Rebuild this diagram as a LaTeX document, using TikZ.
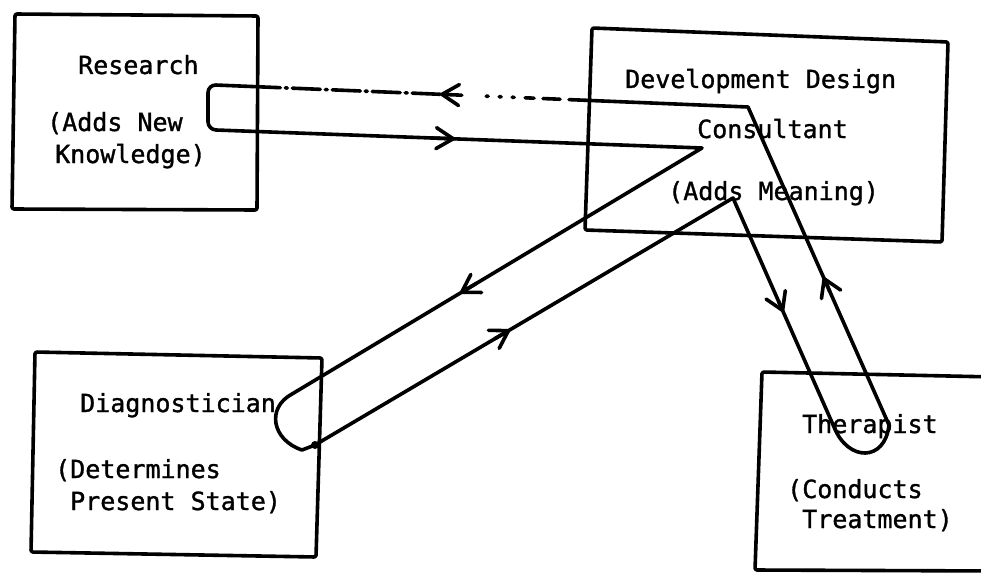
\documentclass[tikz,border=0pt]{standalone}
\usepackage{fontspec}
\newfontfamily\tw[FakeBold=1.2]{DejaVu Sans Mono}
\usetikzlibrary{arrows.meta,calc}

\begin{document}
\begin{tikzpicture}[x=1pt,y=-1pt,
  boxline/.style={line width=3.6pt, line join=round, rounded corners=2pt},
  loopline/.style={line width=3.6pt, line cap=round, line join=round},
  txt/.style={inner sep=0pt, anchor=base west, font=\tw\fontsize{25}{30}\selectfont},
  barb/.style={line width=3.6pt, line cap=round,
    -{Straight Barb[round,length=17pt,width=21pt,line width=3.6pt]}},
  dashdot/.style={dash pattern=on 28pt off 5pt on 2pt off 5pt},
  sparse/.style={dash pattern=on 2pt off 11pt},
  brokenline/.style={dash pattern=on 17pt off 9pt}]

% page and clipping frame
\useasboundingbox (0,0) rectangle (981,575);
\fill[white] (0,0) rectangle (981,575);
\clip (0,0) rectangle (981,575);

% ---------- the four boxes ----------
\coordinate (r1) at (15,14);   \coordinate (r2) at (258,16);
\coordinate (r3) at (257,210); \coordinate (r4) at (12,209);
\draw[boxline] (r1) -- (r2) -- (r3) -- (r4) -- cycle;

\coordinate (d1) at (592,28);  \coordinate (d2) at (948,42);
\coordinate (d3) at (942,242); \coordinate (d4) at (585,230);
\draw[boxline] (d1) -- (d2) -- (d3) -- (d4) -- cycle;

\coordinate (g1) at (35,352);  \coordinate (g2) at (322,358);
\coordinate (g3) at (316,557); \coordinate (g4) at (31,552);
\draw[boxline] (g1) -- (g2) -- (g3) -- (g4) -- cycle;

\coordinate (t1) at (762,372); \coordinate (t2) at (995,377);
\coordinate (t3) at (995,571); \coordinate (t4) at (755,570);
\draw[boxline] (t2) -- (t1) -- (t4) -- (t3);

% ---------- the loop joining the boxes ----------
\coordinate (k1) at (748,107);     % turn inside the consultant box
\coordinate (k2) at (702,148);     % inner end of the research loop
\coordinate (k3) at (733,198);     % apex above the diagnostic loop
\coordinate (rtop) at (208,84.7);  % research loop, upper bend
\coordinate (rbot) at (208,129.7); % research loop, lower bend
\coordinate (du1) at (292,394);    % diagnostic loop, entry
\coordinate (du2) at (315,445);    % diagnostic loop, exit
\coordinate (tu1) at (834,427);    % therapist loop, entry
\coordinate (tu2) at (889,425);    % therapist loop, exit

% upper return line: solid, broken, dotted, dash-dot
\coordinate (a1) at ($(k1)!0.30!(rtop)$);
\coordinate (a2) at ($(k1)!0.409!(rtop)$);
\coordinate (a3) at ($(k1)!0.496!(rtop)$);
\coordinate (a4) at ($(k1)!0.570!(rtop)$);
\coordinate (a5) at ($(k1)!0.90!(rtop)$);
\draw[loopline,brokenline] (a1) -- (a2);
\draw[loopline,sparse] (a2) -- (a3);
\draw[loopline,dashdot] (a4) -- (a5);

% main run of the loop
\draw[loopline] (a1) -- (k1) -- (tu2)
  .. controls (885,462) and (848,462) .. (tu1) -- (k3) -- (du2) -- (302,450)
  .. controls (272,440) and (266,408) .. (du1) -- (k2) -- ($(k2)!0.5!(rbot)$);
\draw[loopline,rounded corners=8pt] ($(k2)!0.5!(rbot)$) -- (rbot) -- (rtop) -- (a5);
\fill (du2) circle (4pt);

% direction marks
\draw[barb] ($(k1)!0.53!(rtop)$) -- (a4);
\draw[barb] ($(rbot)!0.45!(k2)$) -- ($(rbot)!0.5!(k2)$);
\draw[barb] ($(k2)!0.55!(du1)$) -- ($(k2)!0.59!(du1)$);
\draw[barb] ($(du2)!0.43!(k3)$) -- ($(du2)!0.4665!(k3)$);
\draw[barb] ($(k3)!0.45!(tu1)$) -- ($(k3)!0.498!(tu1)$);
\draw[barb] ($(tu2)!0.42!(k1)$) -- ($(tu2)!0.465!(k1)$);

% ---------- texts ----------
\node[txt] (research) at (78,74) {Research};
\node[txt] (rsub1) at (47,131) {(Adds New};
\node[txt] (rsub2) at (55,163) {Knowledge)};

\node[txt] (dev1) at (625,88) {Development Design};
\node[txt] (dev2) at (697,138) {Consultant};
\node[txt] (dev3) at (668,200) {(Adds Meaning)};

\node[txt] (diag) at (80,412) {Diagnostician};
\node[txt] (dsub1) at (55,478) {(Determines};
\node[txt] (dsub2) at (70,510) {Present State)};

\node[txt] (ther) at (802,433) {Therapist};
\node[txt] (tsub1) at (787,498) {(Conducts};
\node[txt] (tsub2) at (802,528) {Treatment)};
\end{tikzpicture}
\end{document}
